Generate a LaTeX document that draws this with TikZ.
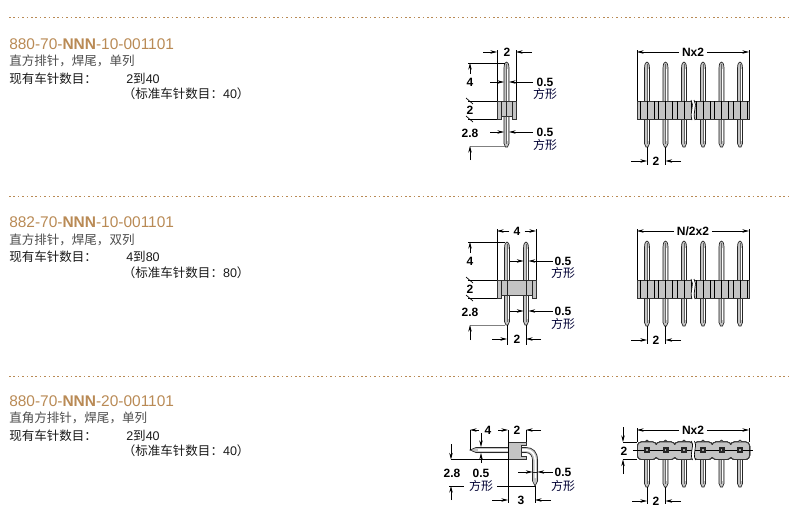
\documentclass[tikz,border=0pt]{standalone}
\usepackage{fontspec}
\setmainfont{Liberation Sans}
\newfontfamily\cjk{Noto Sans CJK SC}
\usetikzlibrary{arrows.meta}
\definecolor{titlebrown}{HTML}{B98A55}
\definecolor{blockgrey}{HTML}{C4C4C4}
% one upright pin: x, top, bottom
\newcommand{\uprightpin}[3]{
  \fill[blockgrey] (#1-2.7,#2+6) .. controls (#1-2.5,#2+1.5) and (#1-1.2,#2) .. (#1,#2) .. controls (#1+1.2,#2) and (#1+2.5,#2+1.5) .. (#1+2.7,#2+6) -- (#1+2.7,#3-3.5) -- (#1+1,#3) -- (#1-1,#3) -- (#1-2.7,#3-3.5) -- cycle;
  \fill[white] (#1+.3,#2+7) rectangle (#1+1.8,#3-6);
  \draw[pinline] (#1-2.5,#2+6) .. controls (#1-2.3,#2+1.5) and (#1-1.2,#2) .. (#1,#2) .. controls (#1+1.2,#2) and (#1+2.3,#2+1.5) .. (#1+2.5,#2+6) (#1-2.5,#2+6) -- (#1-2.5,#3-3.5) -- (#1-1,#3) -- (#1+1,#3) -- (#1+2.5,#3-3.5) -- (#1+2.5,#2+6);
  \draw[pinline,black!60] (#1,#2+2) -- (#1,#3-3.5);
}
\begin{document}
\begin{tikzpicture}[x=.75pt,y=-.75pt,
    title/.style={anchor=base west,inner sep=0pt,text=titlebrown,font=\fontsize{11.6}{14}\selectfont},
    desc/.style={anchor=base west,inner sep=0pt,text=black!70,font=\fontsize{9.4}{12}\cjk},
    count/.style={anchor=base west,inner sep=0pt,text=black!90,font=\fontsize{9.4}{12}\selectfont},
    dimtext/.style={inner sep=0pt,font=\fontsize{9}{10}\bfseries},
    shapetext/.style={inner sep=0pt,text=black!80!blue,font=\fontsize{9}{10}\cjk},
    pinline/.style={line width=.5pt,black!85},
    dimline/.style={line width=.5pt,black},
    dimarrow/.style={line width=.5pt,black,-{Stealth[length=5pt,width=2.6pt]}},
    block/.style={fill=blockgrey,draw=black!80,line width=.6pt}]
  \useasboundingbox (0,0) rectangle (800,525);

  % separators
  \foreach \sepy in {17,196,376}
    \draw[titlebrown,line width=.75pt,dash pattern=on 1.2pt off 2.1pt] (9,\sepy) -- (790,\sepy);

  % text on the left
  \foreach \texty/\partno/\kind/\range/\full/\idx in {
      0/{880-70-\textbf{NNN}-10-001101}/直方排针，焊尾，单列/{2}/40/a,
      178.5/{882-70-\textbf{NNN}-10-001101}/直方排针，焊尾，双列/{4}/80/b,
      357/{880-70-\textbf{NNN}-20-001101}/直角方排针，焊尾，单列/{2}/40/c}{
    \node[title] (part\idx) at (9,49+\texty) {\partno};
    \node[desc] (kind\idx) at (9,65.5+\texty) {\kind};
    \node[count] (have\idx) at (9,83+\texty) {{\cjk 现有车针数目：}};
    \node[count] (range\idx) at (126,83+\texty) {\range{\cjk 到}\full};
    \node[count] (std\idx) at (122.5,98.5+\texty) {{\cjk （标准车针数目：}\full{\cjk ）}};
  }

  % side view, single row
  \uprightpin{506.5}{62}{147}
  \draw[block] (497,101) -- (516,101) -- (516,119) -- (512,119) -- (512,116) -- (501,116) -- (501,119) -- (497,119) -- cycle;
  \foreach \linex in {501,506.5,512}
    \draw[pinline] (\linex,101) -- (\linex,116);
  \node[dimtext] (widtha) at (507,52) {2};
  \node[dimtext] (posta) at (470,82) {4};
  \node[dimtext] (basea) at (470,110) {2};
  \node[dimtext] (taila) at (470,133) {2.8};
  \node[dimtext] (squarea) at (545,82) {0.5};
  \node[shapetext] (shapea) at (545,94) {方形};
  \node[dimtext] (squareb) at (545,132) {0.5};
  \node[shapetext] (shapeb) at (545,145) {方形};
  \draw[dimline] (497,50) -- (497,101) (516,50) -- (516,101);
  \draw[dimline] (468,63) -- (505,63) (468,101) -- (497,101) (468,119) -- (497,119);
  \draw[dimline,black!50] (470,146) -- (505,146);
  \draw[dimline] (466,98) -- (473,104) (466,116) -- (473,122);
  \draw[dimarrow] (483,52) -- (497,52);
  \draw[dimarrow] (532,52) -- (516,52);
  \draw[dimarrow] (470,74) -- (470,63);
  \draw[dimarrow] (470,160) -- (470,146);
  \foreach \leady in {82,132}{
    \draw[dimarrow] (490,\leady) -- (504,\leady);
    \draw[dimarrow] (533,\leady) -- (509,\leady);
  }

  % front views, straight
  \foreach \viewy/\viewtext/\idx in {0/Nx2/a,179/{N/2x2}/b}{
    \begin{scope}[shift={(0,\viewy)}]
      \foreach \pinx in {647,665.5,684,703,721.5,740}
        \uprightpin{\pinx}{62}{147}
      \draw[block] (637,101) rectangle (749,119);
      \foreach \pinx in {647,665.5,684,703,721.5,740}
        \foreach \linex in {-7,0,7}
          \draw[line width=.5pt] (\pinx+\linex,101) -- (\pinx+\linex,119);
      \fill[white] (691,100) .. controls (695,106) and (689,112) .. (692,120) -- (695,120) .. controls (692,112) and (698,106) .. (694,100) -- cycle;
      \draw[line width=.5pt] (691,100) .. controls (695,106) and (689,112) .. (692,120);
      \draw[line width=.5pt] (694,100) .. controls (698,106) and (692,112) .. (695,120);
      \node[dimtext,fill=white,inner xsep=2pt] (pitch\idx) at (693,52) {\viewtext};
      \node[dimtext] (step\idx) at (656,161) {2};
      \draw[dimline] (637,50) -- (637,101) (749,50) -- (749,101);
      \draw[dimline] (647,147) -- (647,165) (665.5,147) -- (665.5,165);
      \draw[dimarrow] (pitch\idx) -- (637,52);
      \draw[dimarrow] (pitch\idx) -- (749,52);
      \draw[dimarrow] (631,161) -- (647,161);
      \draw[dimarrow] (681,161) -- (665.5,161);
    \end{scope}
  }

  % side view, double row
  \uprightpin{507}{242}{325}
  \uprightpin{526}{242}{325}
  \draw[block] (497,280) -- (536,280) -- (536,298) -- (532,298) -- (532,295) -- (501,295) -- (501,298) -- (497,298) -- cycle;
  \foreach \linex in {501,507,526,532}
    \draw[pinline] (\linex,280) -- (\linex,295);
  \node[dimtext,inner xsep=3pt] (widthc) at (517,231) {4};
  \node[dimtext] (postc) at (470,261) {4};
  \node[dimtext] (basec) at (470,289) {2};
  \node[dimtext] (tailc) at (470,312) {2.8};
  \node[dimtext] (squarec) at (563,261) {0.5};
  \node[shapetext] (shapec) at (563,273) {方形};
  \node[dimtext] (squared) at (563,311) {0.5};
  \node[shapetext] (shaped) at (563,324) {方形};
  \node[dimtext] (stepc) at (517,339) {2};
  \draw[dimline] (497,229) -- (497,280) (536,229) -- (536,280);
  \draw[dimline] (468,242) -- (505,242) (468,280) -- (497,280) (468,298) -- (497,298);
  \draw[dimline,black!50] (470,325) -- (505,325);
  \draw[dimline] (466,277) -- (473,283) (466,295) -- (473,301);
  \draw[dimline] (507,325) -- (507,345) (526,325) -- (526,345);
  \draw[dimarrow] (widthc) -- (497,231);
  \draw[dimarrow] (widthc) -- (536,231);
  \draw[dimarrow] (470,253) -- (470,242);
  \draw[dimarrow] (470,340) -- (470,325);
  \draw[dimarrow] (492,339) -- (507,339);
  \draw[dimarrow] (541,339) -- (526,339);
  \foreach \leady in {261,311}{
    \draw[dimarrow] (510,\leady) -- (523.5,\leady);
    \draw[dimarrow] (553,\leady) -- (528.5,\leady);
  }

  % side view, right angle
  \fill[blockgrey] (470,450) -- (476,447) -- (526,447) .. controls (533,447) and (538,452) .. (538,460) -- (538,481) -- (535,486) -- (532.5,481) -- (532.5,460) .. controls (532.5,456) and (530,453) .. (526,453) -- (476,453) -- cycle;
  \fill[white] (478,449) -- (526,449) .. controls (532,449) and (536,454) .. (536,460) -- (536,478) -- (534.5,478) -- (534.5,460) .. controls (534.5,455) and (531,451) .. (526,451) -- (478,451) -- cycle;
  \draw[pinline] (470,450) -- (476,447.5) -- (526,447.5) .. controls (533,447.5) and (537.5,452) .. (537.5,460) -- (537.5,481) -- (535,486) -- (532.5,481) -- (532.5,460) .. controls (532.5,456) and (530,452.5) .. (526,452.5) -- (476,452.5) -- cycle;
  \draw[pinline] (532.5,472) -- (537.5,472);
  \draw[block] (508,442) -- (526,442) -- (526,445.5) -- (521,445.5) -- (521,456) -- (526,456) -- (526,459.5) -- (508,459.5) -- cycle;
  \node[dimtext] (widthe) at (488,430) {4};
  \node[dimtext] (bodye) at (517,430) {2};
  \node[dimtext] (taile) at (452,473) {2.8};
  \node[dimtext] (squaree) at (481,473) {0.5};
  \node[shapetext] (shapee) at (481,486) {方形};
  \node[dimtext] (squaref) at (563,472) {0.5};
  \node[shapetext] (shapef) at (563,486) {方形};
  \node[dimtext] (offsete) at (521,500) {3};
  \draw[dimline] (470,430) -- (470,450) (508,430) -- (508,503) (526,430) -- (526,442) (535,486) -- (535,503);
  \draw[dimline] (451,459.5) -- (508,459.5);
  \draw[dimline] (449,486) -- (464,486) (497,486) -- (535,486);
  \draw[dimarrow] (479,430) -- (470,430);
  \draw[dimarrow] (498,430) -- (508,430);
  \draw[dimarrow] (541,430) -- (526,430);
  \draw[dimarrow] (481,433) -- (481,447);
  \draw[dimarrow] (481,463) -- (481,453);
  \draw[dimarrow] (451,444) -- (451,459.5);
  \draw[dimarrow] (451,500) -- (451,486);
  \draw[dimarrow] (518,472) -- (532.5,472);
  \draw[dimarrow] (553,472) -- (537.5,472);
  \draw[dimarrow] (492,500) -- (508,500);
  \draw[dimarrow] (551,500) -- (535,500);

  % front view, right angle
  \foreach \pinx in {647,665.5,684,703,721.5,740}
    \uprightpin{\pinx}{440}{487}
  \foreach \pinx in {647,665.5,684,703,721.5,740}
    \draw[block,rounded corners=3pt] (\pinx-9.6,442) rectangle (\pinx+9.6,459.5);
  \foreach \joinx in {656.2,674.7,693.5,712.2,730.7}
    \fill[blockgrey] (\joinx-3,444.5) rectangle (\joinx+3,457);
  \draw[line width=.5pt] (633,450) -- (753,450);
  \foreach \pinx in {647,665.5,684,703,721.5,740}{
    \fill[black!85] (\pinx-3,447) rectangle (\pinx+3,453);
    \fill[black!35] (\pinx-.8,449.2) rectangle (\pinx+.8,450.8);
  }
  \fill[white] (691.5,440) .. controls (695,446) and (689,452) .. (692.5,461) -- (695.5,461) .. controls (692,452) and (698,446) .. (694.5,440) -- cycle;
  \draw[line width=.5pt] (691.5,441) .. controls (695,446) and (689,452) .. (692.5,460);
  \draw[line width=.5pt] (694.5,441) .. controls (698,446) and (692,452) .. (695.5,460);
  \node[dimtext,fill=white,inner xsep=2pt] (pitche) at (693,430) {Nx2};
  \node[dimtext] (bodyf) at (624,451) {2};
  \node[dimtext] (stepe) at (656,501) {2};
  \draw[dimline] (637,428) -- (637,442) (749,428) -- (749,442);
  \draw[dimline] (623,442) -- (637,442) (623,459.5) -- (637,459.5);
  \draw[dimline] (647,487) -- (647,504) (665.5,487) -- (665.5,504);
  \draw[dimarrow] (pitche) -- (637,430);
  \draw[dimarrow] (pitche) -- (749,430);
  \draw[dimarrow] (623,427) -- (623,442);
  \draw[dimarrow] (623,474) -- (623,459.5);
  \draw[dimarrow] (632,501) -- (647,501);
  \draw[dimarrow] (681,501) -- (665.5,501);
\end{tikzpicture}
\end{document}
